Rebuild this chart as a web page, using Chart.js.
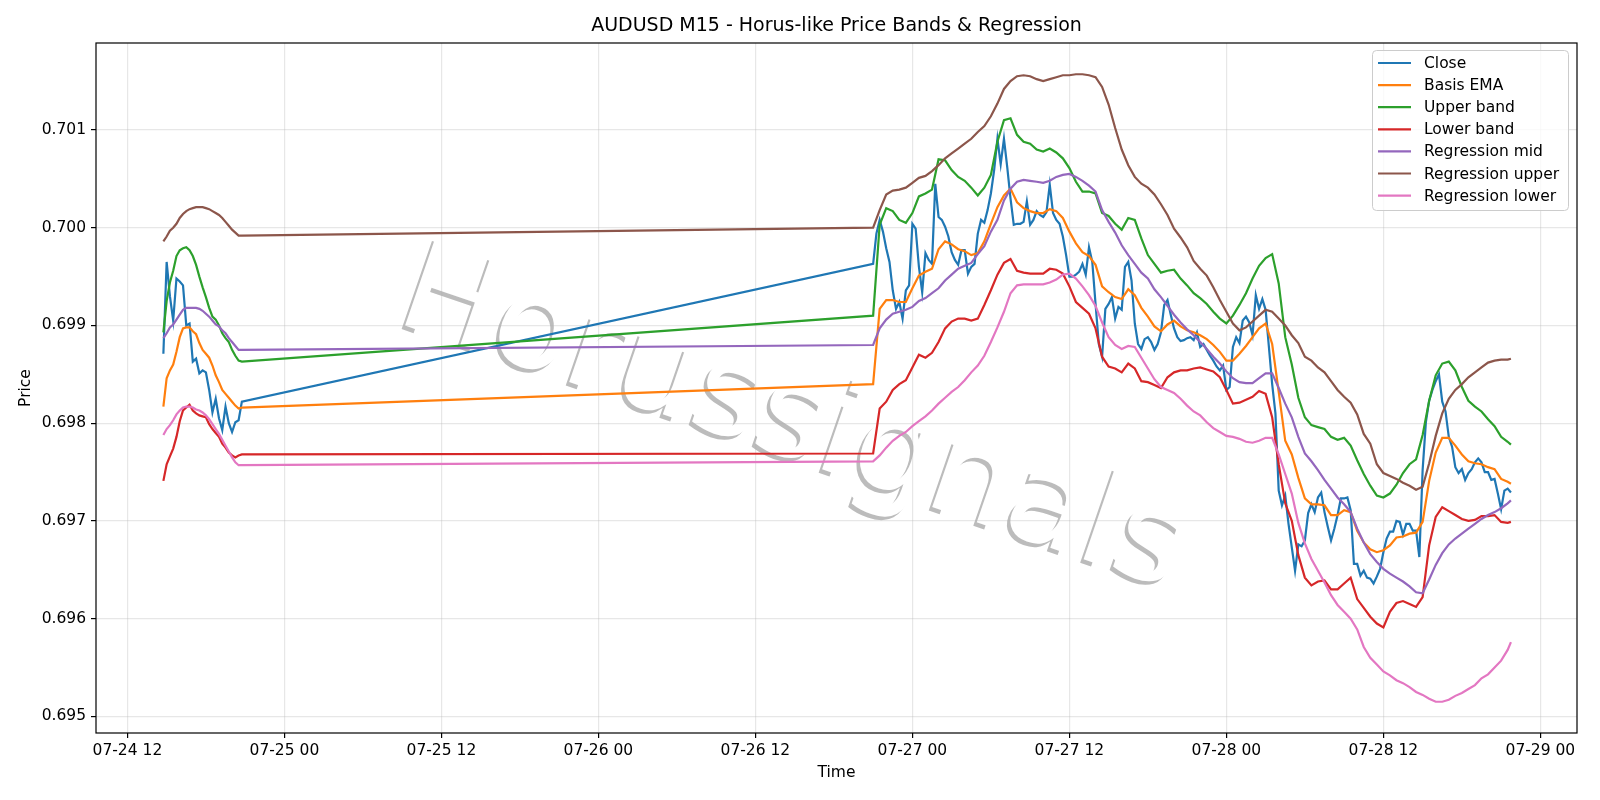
<!DOCTYPE html>
<html>
<head>
<meta charset="utf-8">
<title>AUDUSD M15 - Horus-like Price Bands & Regression</title>
<script src="https://cdn.jsdelivr.net/npm/chart.js@4.4.1/dist/chart.umd.min.js"></script>
<style>
  html, body { margin: 0; padding: 0; background: #ffffff; }
  #wrap { width: 1600px; height: 800px; }
</style>
</head>
<body>
<div id="wrap"><canvas id="grafico" width="1600" height="800"></canvas></div>
<script>
// tempo em horas a partir de 07-24 00:00
const xTickHours = [12, 24, 36, 48, 60, 72, 84, 96, 108, 120];
const xTickLabels = ['07-24 12', '07-25 00', '07-25 12', '07-26 00', '07-26 12', '07-27 00', '07-27 12', '07-28 00', '07-28 12', '07-29 00'];
const yTicks = [0.695, 0.696, 0.697, 0.698, 0.699, 0.700, 0.701];

function barTimes(startHour, count, stepHours) {
    const out = [];
    for (let i = 0; i < count; i++) out.push(startHour + i * stepHours);
    return out;
}
// sessão 1: 07-24 14:45..20:45 (M15) / sessão 2: 07-26 21:00..07-28 21:45
const closeTimes = barTimes(14.75, 25, 0.25).concat(barTimes(69, 196, 0.25));
const bandTimes = barTimes(14.75, 25, 0.25).concat(barTimes(69, 98, 0.5), [117.75]);

const closeValues = [
    0.69871, 0.69965, 0.69930, 0.69905, 0.69948, 0.69945, 0.69941, 0.69900, 0.69902, 0.69863,
    0.69866, 0.69851, 0.69854, 0.69852, 0.69834, 0.69811, 0.69825, 0.69805, 0.69793, 0.69817,
    0.69800, 0.69791, 0.69801, 0.69803, 0.69822,
    0.69963, 0.69994, 0.70008, 0.69996, 0.69979, 0.69965, 0.69936, 0.69917, 0.69924, 0.69907,
    0.69936, 0.69941, 0.70004, 0.69999, 0.69960, 0.69934, 0.69974, 0.69967, 0.69963, 0.70045,
    0.70011, 0.70008, 0.70001, 0.69991, 0.69975, 0.69967, 0.69962, 0.69977, 0.69977, 0.69953,
    0.69960, 0.69963, 0.69994, 0.70008, 0.70005, 0.70018, 0.70035, 0.70059, 0.70091, 0.70065,
    0.70091, 0.70062, 0.70030, 0.70003, 0.70004, 0.70004, 0.70006, 0.70027, 0.70003, 0.70008,
    0.70017, 0.70013, 0.70011, 0.70016, 0.70044, 0.70015, 0.70008, 0.70004, 0.69991, 0.69972,
    0.69950, 0.69950, 0.69952, 0.69955, 0.69963, 0.69952, 0.69980, 0.69965, 0.69922, 0.69881,
    0.69868, 0.69917, 0.69922, 0.69929, 0.69907, 0.69919, 0.69916, 0.69960, 0.69965, 0.69946,
    0.69902, 0.69881, 0.69876, 0.69886, 0.69888, 0.69883, 0.69875, 0.69881, 0.69893, 0.69921,
    0.69926, 0.69911, 0.69897, 0.69888, 0.69884, 0.69885, 0.69887, 0.69888, 0.69885, 0.69893,
    0.69878, 0.69881, 0.69875, 0.69869, 0.69864, 0.69858, 0.69854, 0.69859, 0.69834, 0.69837,
    0.69878, 0.69888, 0.69882, 0.69905, 0.69909, 0.69903, 0.69890, 0.69931, 0.69917, 0.69927,
    0.69916, 0.69878, 0.69840, 0.69810, 0.69731, 0.69716, 0.69726, 0.69697, 0.69673, 0.69649,
    0.69676, 0.69674, 0.69680, 0.69708, 0.69717, 0.69709, 0.69724, 0.69729, 0.69709, 0.69694,
    0.69680, 0.69692, 0.69706, 0.69723, 0.69723, 0.69724, 0.69711, 0.69656, 0.69656, 0.69644,
    0.69649, 0.69642, 0.69641, 0.69636, 0.69643, 0.69651, 0.69668, 0.69682, 0.69689, 0.69689,
    0.69700, 0.69699, 0.69686, 0.69697, 0.69697, 0.69690, 0.69690, 0.69663, 0.69752, 0.69801,
    0.69823, 0.69834, 0.69843, 0.69850, 0.69822, 0.69812, 0.69786, 0.69776, 0.69755, 0.69749,
    0.69753, 0.69742, 0.69749, 0.69753, 0.69760, 0.69764, 0.69760, 0.69750, 0.69750, 0.69742,
    0.69743, 0.69728, 0.69712, 0.69731, 0.69733, 0.69729
];

const basisValues = [
    0.69817, 0.69846, 0.69854, 0.69860, 0.69873, 0.69888, 0.69897, 0.69898, 0.69898, 0.69894,
    0.69891, 0.69882, 0.69875, 0.69871, 0.69867, 0.69859, 0.69849, 0.69842, 0.69834, 0.69830,
    0.69826, 0.69822, 0.69818, 0.69815, 0.69816,
    0.69840, 0.69917, 0.69926, 0.69926, 0.69924, 0.69924, 0.69938, 0.69951, 0.69955, 0.69958,
    0.69978, 0.69986, 0.69983, 0.69978, 0.69976, 0.69972, 0.69974, 0.69986, 0.70004, 0.70021,
    0.70033, 0.70040, 0.70026, 0.70020, 0.70017, 0.70015, 0.70015, 0.70019, 0.70017, 0.70010,
    0.69996, 0.69984, 0.69975, 0.69971, 0.69962, 0.69940, 0.69934, 0.69929, 0.69927, 0.69937,
    0.69931, 0.69918, 0.69909, 0.69899, 0.69894, 0.69901, 0.69905, 0.69899, 0.69895, 0.69893,
    0.69890, 0.69886, 0.69880, 0.69873, 0.69864, 0.69864, 0.69871, 0.69879, 0.69888, 0.69897,
    0.69902, 0.69881, 0.69832, 0.69782, 0.69768, 0.69744, 0.69723, 0.69717, 0.69717, 0.69716,
    0.69706, 0.69706, 0.69711, 0.69709, 0.69690, 0.69678, 0.69671, 0.69668, 0.69670, 0.69675,
    0.69683, 0.69684, 0.69687, 0.69688, 0.69699, 0.69741, 0.69770, 0.69785, 0.69785, 0.69777,
    0.69768, 0.69761, 0.69759, 0.69758, 0.69755, 0.69753, 0.69743, 0.69740, 0.69738
];

const upperValues = [
    0.69893, 0.69925, 0.69944, 0.69956, 0.69971, 0.69977, 0.69979, 0.69980, 0.69977, 0.69971,
    0.69962, 0.69950, 0.69939, 0.69929, 0.69918, 0.69909, 0.69906, 0.69900, 0.69892, 0.69887,
    0.69883, 0.69875, 0.69869, 0.69864, 0.69863,
    0.69910, 0.70003, 0.70020, 0.70017, 0.70008, 0.70005, 0.70015, 0.70032, 0.70035, 0.70039,
    0.70070, 0.70069, 0.70059, 0.70052, 0.70048, 0.70041, 0.70033, 0.70041, 0.70054, 0.70088,
    0.70110, 0.70112, 0.70095, 0.70088, 0.70086, 0.70080, 0.70078, 0.70081, 0.70077, 0.70071,
    0.70061, 0.70047, 0.70037, 0.70037, 0.70035, 0.70015, 0.70012, 0.70004, 0.69998, 0.70010,
    0.70008, 0.69989, 0.69972, 0.69963, 0.69954, 0.69956, 0.69957, 0.69948, 0.69941, 0.69933,
    0.69928, 0.69922, 0.69914, 0.69907, 0.69902, 0.69910, 0.69921, 0.69933, 0.69948, 0.69961,
    0.69969, 0.69973, 0.69943, 0.69888, 0.69860, 0.69826, 0.69806, 0.69798, 0.69796, 0.69794,
    0.69786, 0.69783, 0.69785, 0.69777, 0.69762, 0.69748, 0.69736, 0.69726, 0.69724, 0.69728,
    0.69737, 0.69749, 0.69758, 0.69763, 0.69788, 0.69823, 0.69849, 0.69861, 0.69863, 0.69854,
    0.69837, 0.69823, 0.69817, 0.69812, 0.69804, 0.69797, 0.69786, 0.69781, 0.69778
];

const lowerValues = [
    0.69741, 0.69758, 0.69766, 0.69774, 0.69786, 0.69802, 0.69813, 0.69816, 0.69819, 0.69813,
    0.69810, 0.69808, 0.69807, 0.69806, 0.69799, 0.69794, 0.69790, 0.69786, 0.69779, 0.69775,
    0.69770, 0.69767, 0.69765, 0.69767, 0.69768,
    0.69769, 0.69815, 0.69822, 0.69834, 0.69840, 0.69844, 0.69857, 0.69870, 0.69867, 0.69872,
    0.69883, 0.69897, 0.69904, 0.69907, 0.69907, 0.69905, 0.69907, 0.69921, 0.69936, 0.69952,
    0.69964, 0.69968, 0.69956, 0.69954, 0.69953, 0.69953, 0.69953, 0.69958, 0.69957, 0.69953,
    0.69940, 0.69924, 0.69918, 0.69912, 0.69897, 0.69868, 0.69858, 0.69856, 0.69852, 0.69861,
    0.69856, 0.69843, 0.69842, 0.69839, 0.69836, 0.69847, 0.69852, 0.69854, 0.69854, 0.69856,
    0.69857, 0.69855, 0.69853, 0.69847, 0.69834, 0.69820, 0.69821, 0.69824, 0.69827, 0.69833,
    0.69830, 0.69806, 0.69758, 0.69718, 0.69700, 0.69665, 0.69642, 0.69634, 0.69638, 0.69639,
    0.69630, 0.69630, 0.69636, 0.69642, 0.69620, 0.69611, 0.69602, 0.69595, 0.69591, 0.69607,
    0.69616, 0.69618, 0.69615, 0.69612, 0.69622, 0.69675, 0.69704, 0.69714, 0.69710, 0.69706,
    0.69702, 0.69700, 0.69701, 0.69705, 0.69705, 0.69706, 0.69699, 0.69698, 0.69699
];

const regMidValues = [
    0.69887, 0.69892, 0.69898, 0.69901, 0.69906, 0.69911, 0.69916, 0.69918, 0.69918, 0.69918,
    0.69918, 0.69917, 0.69915, 0.69912, 0.69909, 0.69905, 0.69901, 0.69899, 0.69895, 0.69892,
    0.69887, 0.69883, 0.69879, 0.69875, 0.69875,
    0.69880, 0.69897, 0.69906, 0.69912, 0.69914, 0.69916, 0.69919, 0.69925, 0.69928, 0.69933,
    0.69938, 0.69946, 0.69952, 0.69958, 0.69961, 0.69964, 0.69973, 0.69981, 0.69996, 0.70008,
    0.70028, 0.70040, 0.70047, 0.70049, 0.70048, 0.70047, 0.70046, 0.70048, 0.70052, 0.70054,
    0.70055, 0.70052, 0.70048, 0.70043, 0.70037, 0.70018, 0.70006, 0.69995, 0.69982, 0.69972,
    0.69963, 0.69954, 0.69948, 0.69937, 0.69929, 0.69920, 0.69911, 0.69903, 0.69896, 0.69890,
    0.69883, 0.69876, 0.69868, 0.69861, 0.69853, 0.69846, 0.69842, 0.69841, 0.69841, 0.69846,
    0.69851, 0.69851, 0.69836, 0.69820, 0.69806, 0.69786, 0.69769, 0.69761, 0.69752, 0.69742,
    0.69733, 0.69724, 0.69717, 0.69709, 0.69692, 0.69678, 0.69666, 0.69658, 0.69651, 0.69646,
    0.69642, 0.69638, 0.69633, 0.69627, 0.69626, 0.69640, 0.69655, 0.69667, 0.69676, 0.69682,
    0.69687, 0.69692, 0.69697, 0.69702, 0.69706, 0.69709, 0.69713, 0.69718, 0.69721
];

const regUpperValues = [
    0.69986, 0.69991, 0.69997, 0.70000, 0.70004, 0.70010, 0.70014, 0.70017, 0.70019, 0.70020,
    0.70021, 0.70021, 0.70021, 0.70020, 0.70019, 0.70017, 0.70015, 0.70013, 0.70010, 0.70006,
    0.70002, 0.69998, 0.69995, 0.69992, 0.69992,
    0.70000, 0.70018, 0.70034, 0.70038, 0.70039, 0.70041, 0.70046, 0.70051, 0.70053, 0.70058,
    0.70064, 0.70071, 0.70076, 0.70081, 0.70086, 0.70091, 0.70098, 0.70104, 0.70114, 0.70127,
    0.70142, 0.70150, 0.70155, 0.70156, 0.70155, 0.70152, 0.70150, 0.70152, 0.70154, 0.70156,
    0.70156, 0.70157, 0.70157, 0.70156, 0.70154, 0.70144, 0.70126, 0.70102, 0.70080, 0.70064,
    0.70052, 0.70045, 0.70041, 0.70034, 0.70024, 0.70013, 0.69999, 0.69990, 0.69980, 0.69966,
    0.69958, 0.69951, 0.69939, 0.69926, 0.69914, 0.69902, 0.69895, 0.69898, 0.69904, 0.69910,
    0.69916, 0.69914, 0.69907, 0.69900, 0.69890, 0.69882, 0.69868, 0.69864, 0.69857, 0.69852,
    0.69843, 0.69834, 0.69827, 0.69821, 0.69809, 0.69789, 0.69779, 0.69758, 0.69749, 0.69746,
    0.69743, 0.69739, 0.69736, 0.69732, 0.69735, 0.69759, 0.69787, 0.69810, 0.69825, 0.69834,
    0.69840, 0.69847, 0.69852, 0.69857, 0.69862, 0.69864, 0.69865, 0.69865, 0.69866
];

const regLowerValues = [
    0.69788, 0.69794, 0.69798, 0.69803, 0.69809, 0.69813, 0.69816, 0.69817, 0.69817, 0.69816,
    0.69814, 0.69813, 0.69811, 0.69808, 0.69804, 0.69799, 0.69794, 0.69789, 0.69783, 0.69777,
    0.69771, 0.69765, 0.69760, 0.69757, 0.69757,
    0.69761, 0.69767, 0.69775, 0.69782, 0.69787, 0.69791, 0.69797, 0.69802, 0.69807, 0.69813,
    0.69820, 0.69826, 0.69832, 0.69837, 0.69844, 0.69852, 0.69859, 0.69869, 0.69883, 0.69898,
    0.69914, 0.69933, 0.69941, 0.69942, 0.69942, 0.69942, 0.69942, 0.69944, 0.69947, 0.69952,
    0.69953, 0.69948, 0.69940, 0.69931, 0.69920, 0.69903, 0.69888, 0.69880, 0.69876, 0.69879,
    0.69878, 0.69867, 0.69856, 0.69845, 0.69837, 0.69834, 0.69831, 0.69825, 0.69818, 0.69812,
    0.69808, 0.69801, 0.69795, 0.69791, 0.69787, 0.69786, 0.69784, 0.69781, 0.69780, 0.69782,
    0.69785, 0.69785, 0.69768, 0.69748, 0.69728, 0.69698, 0.69677, 0.69661, 0.69649, 0.69637,
    0.69624, 0.69614, 0.69607, 0.69600, 0.69589, 0.69571, 0.69560, 0.69553, 0.69546, 0.69542,
    0.69537, 0.69534, 0.69530, 0.69525, 0.69522, 0.69518, 0.69515, 0.69515, 0.69517, 0.69521,
    0.69524, 0.69528, 0.69532, 0.69539, 0.69543, 0.69550, 0.69557, 0.69568, 0.69576
];

const seriesLabels = ['Close', 'Basis EMA', 'Upper band', 'Lower band', 'Regression mid', 'Regression upper', 'Regression lower'];
const seriesColors = ['#1f77b4', '#ff7f0e', '#2ca02c', '#d62728', '#9467bd', '#8c564b', '#e377c2'];
const watermarkText = 'Horussignals';

const FONT = '"DejaVu Sans", sans-serif';

function toPoints(times, values) {
    return values.map((v, i) => ({ x: times[i], y: v }));
}

const seriesData = [
    toPoints(closeTimes, closeValues),
    toPoints(bandTimes, basisValues),
    toPoints(bandTimes, upperValues),
    toPoints(bandTimes, lowerValues),
    toPoints(bandTimes, regMidValues),
    toPoints(bandTimes, regUpperValues),
    toPoints(bandTimes, regLowerValues)
];

// marca d'água por baixo da grade e das linhas (texto branco com sombra cinza)
const marcaDagua = {
    id: 'marcaDagua',
    beforeDraw(chart) {
        const c = chart.ctx;
        const desenha = (dx, dy, cor) => {
            c.save();
            c.translate(781 + dx, 455 + dy);
            c.rotate(19 * Math.PI / 180);
            c.font = '128px ' + FONT;
            c.textAlign = 'center';
            c.textBaseline = 'alphabetic';
            c.fillStyle = cor;
            c.fillText(watermarkText, 0, 0);
            c.restore();
        };
        desenha(-3.5, 3.5, '#bcbcbc');
        desenha(0, 0, '#ffffff');
    }
};

// moldura, títulos e legenda
const decoracao = {
    id: 'decoracao',
    afterDraw(chart) {
        const c = chart.ctx;
        const a = chart.chartArea;
        c.save();

        // moldura completa dos eixos
        c.strokeStyle = '#000';
        c.lineWidth = 1.2;
        c.strokeRect(a.left, a.top, a.right - a.left, a.bottom - a.top);

        c.fillStyle = '#000';
        c.textAlign = 'center';
        c.textBaseline = 'middle';
        c.font = '19px ' + FONT;
        c.fillText('AUDUSD M15 - Horus-like Price Bands & Regression', (a.left + a.right) / 2, 26.5);
        c.font = '15.5px ' + FONT;
        c.fillText('Time', (a.left + a.right) / 2, 772.5);
        c.save();
        c.translate(26, (a.top + a.bottom) / 2);
        c.rotate(-Math.PI / 2);
        c.fillText('Price', 0, 0);
        c.restore();

        // legenda
        const lx = 1372.5, ly = 50.5, lw = 196, lh = 160, r = 4;
        c.beginPath();
        c.moveTo(lx + r, ly);
        c.arcTo(lx + lw, ly, lx + lw, ly + lh, r);
        c.arcTo(lx + lw, ly + lh, lx, ly + lh, r);
        c.arcTo(lx, ly + lh, lx, ly, r);
        c.arcTo(lx, ly, lx + lw, ly, r);
        c.closePath();
        c.fillStyle = 'rgba(255,255,255,0.8)';
        c.fill();
        c.strokeStyle = '#cccccc';
        c.lineWidth = 1;
        c.stroke();
        c.textAlign = 'left';
        c.font = '15.5px ' + FONT;
        chart.data.datasets.forEach((ds, k) => {
            const y = 63 + k * 22.1;
            c.strokeStyle = ds.borderColor;
            c.lineWidth = 2.2;
            c.beginPath();
            c.moveTo(1378, y);
            c.lineTo(1411, y);
            c.stroke();
            c.fillStyle = '#000';
            c.fillText(ds.label, 1424, y + 1);
        });
        c.restore();
    }
};

const ctx = document.getElementById('grafico');
new Chart(ctx.getContext('2d'), {
    type: 'line',
    data: {
        datasets: seriesData.map((pts, k) => ({
            label: seriesLabels[k],
            data: pts,
            borderColor: seriesColors[k],
            backgroundColor: seriesColors[k],
            borderWidth: 2.2,
            pointRadius: 0,
            tension: 0,
            fill: false,
            order: seriesData.length - k // os últimos ficam por cima
        }))
    },
    options: {
        responsive: false,
        animation: false,
        devicePixelRatio: 1,
        layout: { padding: { left: 0, right: 23, top: 43, bottom: 0 } },
        plugins: {
            legend: { display: false },
            title: { display: false },
            tooltip: { enabled: false }
        },
        scales: {
            x: {
                type: 'linear',
                min: 9.6,
                max: 122.8,
                afterFit: s => { s.height = 67; },
                afterBuildTicks: axis => { axis.ticks = xTickHours.map(v => ({ value: v })); },
                ticks: {
                    callback: (v, i) => xTickLabels[i],
                    color: '#000',
                    font: { family: FONT, size: 15.5 },
                    maxRotation: 0,
                    autoSkip: false,
                    padding: 4
                },
                grid: { color: 'rgba(176,176,176,0.3)', lineWidth: 1.2, tickColor: '#000', tickLength: 5, tickWidth: 1.2 },
                border: { display: false }
            },
            y: {
                min: 0.69483,
                max: 0.70189,
                afterFit: s => { s.width = 96; },
                afterBuildTicks: axis => { axis.ticks = yTicks.map(v => ({ value: v })); },
                ticks: {
                    callback: v => v.toFixed(3),
                    color: '#000',
                    font: { family: FONT, size: 15.5 },
                    padding: 5
                },
                grid: { color: 'rgba(176,176,176,0.3)', lineWidth: 1.2, tickColor: '#000', tickLength: 5, tickWidth: 1.2 },
                border: { display: false }
            }
        }
    },
    plugins: [marcaDagua, decoracao]
});
</script>
</body>
</html>
